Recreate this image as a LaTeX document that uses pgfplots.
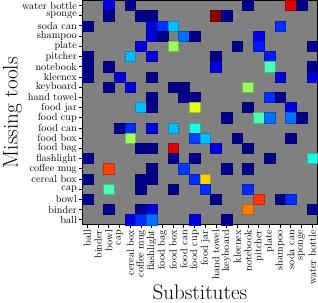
\documentclass[border=0pt]{standalone}
\usepackage{pgfplots}
\pgfplotsset{compat=1.18}
\pgfplotstableread{
x y c
2 21 0.094
4 21 0.01
15 21 0.01
19 21 0.905
20 21 0.01
2 20 0.01
5 20 0.01
6 20 0.01
12 20 1.0
13 20 0.01
0 19 0.01
6 19 0.094
7 19 0.172
8 19 0.313
18 19 0.172
6 18 0.094
7 18 0.01
9 18 0.235
10 18 0.01
16 18 0.1
5 17 0.094
8 17 0.53
14 17 0.01
16 17 0.15
21 17 0.01
0 16 0.01
4 16 0.31
6 16 0.094
12 16 0.01
17 16 0.15
0 15 0.01
2 15 0.01
12 15 0.094
17 15 0.45
21 15 0.01
0 14 0.01
3 14 0.094
6 14 0.01
18 14 0.094
21 14 0.094
2 13 0.01
4 13 0.094
8 13 0.01
9 13 0.01
15 13 0.53
6 12 0.01
9 12 0.01
10 12 0.01
17 12 0.17
18 12 0.01
5 11 0.31
6 11 0.01
10 11 0.595
15 11 0.01
19 11 0.094
13 10 0.01
16 10 0.45
17 10 0.235
19 10 0.235
20 10 0.01
3 9 0.01
4 9 0.17
6 9 0.094
8 9 0.31
10 9 0.406
4 8 0.53
10 8 0.19
11 8 0.31
14 8 0.01
19 8 0.01
5 7 0.01
6 7 0.01
8 7 0.905
12 7 0.094
15 7 0.01
0 6 0.01
8 6 0.01
10 6 0.01
17 6 0.01
21 6 0.406
2 5 0.81
6 5 0.01
9 5 0.18
13 5 0.01
15 5 0.01
0 4 0.01
5 4 0.01
6 4 0.01
10 4 0.17
11 4 0.67
2 3 0.45
5 3 0.01
8 3 0.01
11 3 0.17
15 3 0.17
0 2 0.01
12 2 0.01
16 2 0.82
18 2 0.01
19 2 0.17
2 1 0.01
5 1 0.01
6 1 0.094
15 1 0.75
21 1 0.01
4 0 0.094
5 0 0.17
6 0 0.235
10 0 0.094
13 0 0.01
}\cells
\begin{document}
\begin{tikzpicture}
\begin{axis}[
  scale only axis, width=234pt, height=223pt,
  xmin=-0.5, xmax=21.5, ymin=-0.5, ymax=21.5,
  axis background/.style={fill=gray},
  xtick={0,...,21}, ytick={0,...,21},
  xticklabels={ball,binder,bowl,cap,cereal box,coffee mug,flashlight,food bag,food box,food can,food cup,food jar,hand towel,keyboard,kleenex,notebook,pitcher,plate,shampoo,soda can,sponge,water bottle},
  yticklabels={ball,binder,bowl,cap,cereal box,coffee mug,flashlight,food bag,food box,food can,food cup,food jar,hand towel,keyboard,kleenex,notebook,pitcher,plate,shampoo,soda can,sponge,water bottle},
  xticklabel style={rotate=90, anchor=east, inner xsep=1.5pt, inner ysep=0.2pt, font=\fontsize{10.2}{11}\selectfont},
  yticklabel style={inner xsep=1.5pt, inner ysep=0.2pt, font=\fontsize{10.2}{11}\selectfont},
  tick align=outside, tick pos=left, major tick length=3.5pt,
  tick style={black, line width=0.8pt},
  axis line style={black, line width=0.8pt},
  xlabel={Substitutes}, ylabel={Missing tools},
  xlabel style={font=\fontsize{21}{25}\selectfont, at={(axis description cs:0.5,0)}, anchor=base, yshift=-74pt, inner sep=2.5pt},
  ylabel style={font=\fontsize{21}{25}\selectfont, at={(axis description cs:0,0.5)}, anchor=base, yshift=64pt, inner sep=3pt},
  colormap/jet, point meta min=0, point meta max=1,
]
\addplot[scatter, only marks, mark=square*, mark size=5.318pt,
  scatter src=explicit,
  scatter/use mapped color={draw=mapped color!75!black, fill=mapped color},
  mark options={yscale=0.953, line width=0.4pt}]
  table[x=x, y=y, meta=c] {\cells};
\end{axis}
\end{tikzpicture}
\end{document}
